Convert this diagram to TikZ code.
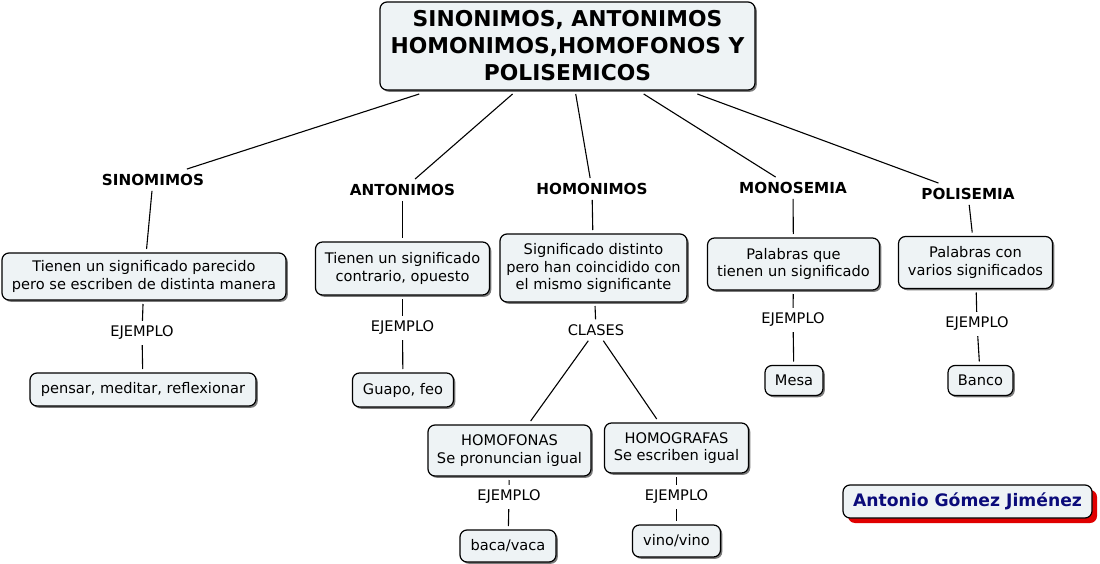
\documentclass[tikz,border=0pt]{standalone}
\usepackage{fontspec}
\setmainfont{DejaVu Sans}
\definecolor{boxfill}{HTML}{EEF3F5}
\definecolor{shadowc}{HTML}{7A7A7A}
\definecolor{authorc}{HTML}{0B0B7A}
\definecolor{redsh}{HTML}{E00000}
\begin{document}
\begin{tikzpicture}[x=1pt,y=-1pt,
  conceptbox/.style={draw=black, line width=1.2pt, rounded corners=7pt, fill=boxfill,
    align=center, inner sep=0pt, outer sep=4pt, font=\fontsize{14.6}{17.7}\selectfont,
    preaction={fill=shadowc, transform canvas={xshift=1.8pt,yshift=-1.8pt}}},
  headlabel/.style={align=center, inner xsep=2pt, inner ysep=5pt, font=\bfseries\fontsize{15.2}{17}\selectfont},
  linklabel/.style={align=center, inner xsep=2pt, inner ysep=5pt, font=\fontsize{14.6}{17}\selectfont},
  conn/.style={draw=black, line width=1.1pt},
  authorbox/.style={draw=black, line width=1.2pt, rounded corners=7pt, fill=boxfill,
    inner sep=0pt, text=authorc, font=\bfseries\fontsize{17.2}{20}\selectfont,
    preaction={fill=redsh, transform canvas={xshift=5pt,yshift=-5pt}}}
]
\useasboundingbox (0,0) rectangle (1100,564);

% title
\node[conceptbox, minimum width=375pt, minimum height=88pt, font=\bfseries\fontsize{21.8}{27}\selectfont] (title) at (567.5,46)
  {SINONIMOS, ANTONIMOS\\HOMONIMOS,HOMOFONOS Y\\POLISEMICOS};

% first level labels
\node[headlabel] (sin) at (153,180) {SINOMIMOS};
\node[headlabel] (ant) at (402.5,190) {ANTONIMOS};
\node[headlabel] (hom) at (592,189) {HOMONIMOS};
\node[headlabel] (mon) at (793,188) {MONOSEMIA};
\node[headlabel] (pol) at (968,194) {POLISEMIA};

% definition boxes
\node[conceptbox, minimum width=284pt, minimum height=47pt] (b1) at (144,276.5)
  {Tienen un significado parecido\\pero se escriben de distinta manera};
\node[conceptbox, minimum width=174pt, minimum height=53pt] (b2) at (402.5,268.5)
  {Tienen un significado\\contrario, opuesto};
\node[conceptbox, minimum width=187pt, minimum height=68pt] (b3) at (593.5,268)
  {Significado distinto\\pero han coincidido con\\el mismo significante};
\node[conceptbox, minimum width=172pt, minimum height=52pt] (b4) at (793.5,264)
  {Palabras que\\tienen un significado};
\node[conceptbox, minimum width=154pt, minimum height=52pt] (b5) at (975.5,262.5)
  {Palabras con\\varios significados};

% link labels
\node[linklabel] (ej1) at (142,333) {EJEMPLO};
\node[linklabel] (ej2) at (402.5,328) {EJEMPLO};
\node[linklabel] (cla) at (596,330) {CLASES};
\node[linklabel] (ej5) at (793,320) {EJEMPLO};
\node[linklabel] (ej6) at (977,324) {EJEMPLO};

% class boxes
\node[conceptbox, minimum width=163pt, minimum height=51pt] (hf) at (509.5,450.5)
  {HOMOFONAS\\Se pronuncian igual};
\node[conceptbox, minimum width=144pt, minimum height=50pt] (hg) at (676.5,448)
  {HOMOGRAFAS\\Se escriben igual};
\node[linklabel] (ej3) at (509,497) {EJEMPLO};
\node[linklabel] (ej4) at (676.5,497) {EJEMPLO};

% example boxes
\node[conceptbox, minimum width=226pt, minimum height=33pt] (e1) at (143,389.5) {pensar, meditar, reflexionar};
\node[conceptbox, minimum width=101pt, minimum height=34pt] (e2) at (403,390) {Guapo, feo};
\node[conceptbox, minimum width=96pt, minimum height=32pt] (e3) at (508,546) {baca/vaca};
\node[conceptbox, minimum width=88pt, minimum height=32pt] (e4) at (676.5,541) {vino/vino};
\node[conceptbox, minimum width=58pt, minimum height=30pt] (e5) at (794,380.5) {Mesa};
\node[conceptbox, minimum width=65pt, minimum height=30pt] (e6) at (980.5,380.5) {Banco};

% author
\node[authorbox, minimum width=249pt, minimum height=33pt] (author) at (967.5,501.5) {Antonio Gómez Jiménez};

% connectors
\draw[conn] (title) -- (sin);
\draw[conn] (title) -- (ant);
\draw[conn] (title) -- (hom);
\draw[conn] (title) -- (mon);
\draw[conn] (title) -- (pol);

\draw[conn] (sin) -- (b1);
\draw[conn] (ant) -- (b2);
\draw[conn] (hom) -- (b3);
\draw[conn] (mon) -- (b4);
\draw[conn] (pol) -- (b5);

\draw[conn] (b1) -- (ej1);
\draw[conn] (ej1) -- (e1);
\draw[conn] (b2) -- (ej2);
\draw[conn] (ej2) -- (e2);
\draw[conn] (b3) -- (cla);
\draw[conn] (cla) -- (hf);
\draw[conn] (cla) -- (hg);
\draw[conn] (hf) -- (ej3);
\draw[conn] (ej3) -- (e3);
\draw[conn] (hg) -- (ej4);
\draw[conn] (ej4) -- (e4);
\draw[conn] (b4) -- (ej5);
\draw[conn] (ej5) -- (e5);
\draw[conn] (b5) -- (ej6);
\draw[conn] (ej6) -- (e6);
\end{tikzpicture}
\end{document}
